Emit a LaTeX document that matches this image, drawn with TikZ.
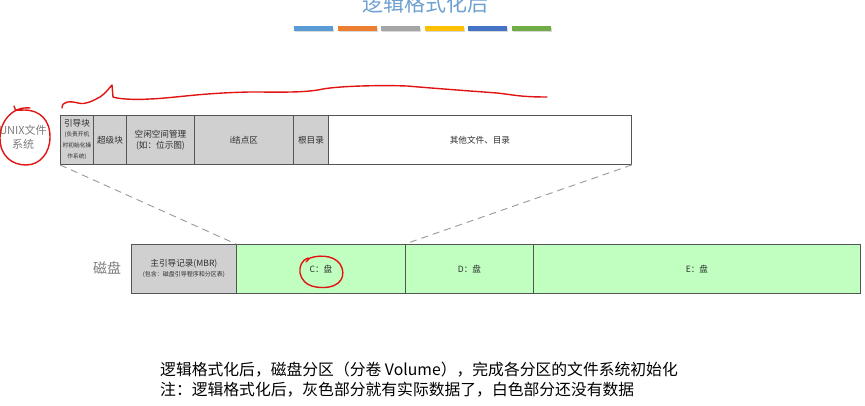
\documentclass[tikz,border=0pt]{standalone}
\usepackage{fontspec}
\setmainfont{Noto Sans CJK SC}
\newfontfamily\cjk{Noto Sans CJK SC}
\newcommand\smalltxt{\fontsize{5.7}{6.8}\selectfont}
\begin{document}
\definecolor{titleblue}{RGB}{110,160,210}
\definecolor{barA}{RGB}{91,155,213}
\definecolor{barB}{RGB}{237,125,49}
\definecolor{barC}{RGB}{165,165,165}
\definecolor{barD}{RGB}{255,192,0}
\definecolor{barE}{RGB}{68,114,196}
\definecolor{barF}{RGB}{112,173,71}
\definecolor{cellgray}{RGB}{208,208,208}
\definecolor{cellgreen}{RGB}{192,255,192}
\definecolor{edge}{RGB}{85,85,85}
\definecolor{celltext}{RGB}{45,45,45}
\definecolor{sidetext}{RGB}{125,125,125}
\definecolor{mark}{RGB}{225,20,20}
\begin{tikzpicture}[x=1pt,y=-1pt,
  cell/.style={draw=edge, line width=0.9pt, anchor=north west, inner sep=0.5pt,
    minimum height=49pt, align=center, text=celltext, font=\cjk\fontsize{8.6}{11}\selectfont},
  graycell/.style={cell, fill=cellgray},
  greencell/.style={cell, fill=cellgreen},
  whitecell/.style={cell, fill=white},
  bar/.style={minimum width=39pt, minimum height=4.5pt, inner sep=0pt, anchor=north west},
  zoomline/.style={draw=gray!80, line width=0.9pt, dash pattern=on 7pt off 5pt},
  pen/.style={draw=mark, line width=1.4pt, line cap=round, line join=round},
  sidelabel/.style={text=sidetext, align=center},
  note/.style={anchor=west, inner sep=0pt, font=\cjk\fontsize{15.8}{18}\selectfont}
]
\useasboundingbox[fill=white] (0,0) rectangle (865,406);

% title and colour strip
\node[text=titleblue, font=\cjk\fontsize{21}{24}\selectfont] (title) at (425,3.5) {逻辑格式化后};
\foreach \i in {0,...,5}
  \fill[gray!30] (295+43.5*\i,28) rectangle ++(39,4.5);
\node[bar, fill=barA] (b1) at (294,26) {};
\node[bar, fill=barB] (b2) at (337.5,26) {};
\node[bar, fill=barC] (b3) at (381,26) {};
\node[bar, fill=barD] (b4) at (424.5,26) {};
\node[bar, fill=barE] (b5) at (468,26) {};
\node[bar, fill=barF] (b6) at (511.5,26) {};

% file system layout
\node[graycell, minimum width=33pt] (boot) at (60,115)
  {引导块\\[-1pt]\smalltxt (负责开机\\\smalltxt 时初始化操\\\smalltxt 作系统)};
\node[graycell, minimum width=33pt] (super) at (93,115) {超级块};
\node[graycell, minimum width=68pt] (free) at (126,115) {空闲空间管理\\(如：位示图)};
\node[graycell, minimum width=99pt] (inode) at (194,115) {i结点区};
\node[graycell, minimum width=35pt] (root) at (293,115) {根目录};
\node[whitecell, minimum width=303pt] (other) at (328,115) {其他文件、目录};

% disk partitions
\node[graycell, minimum width=105pt] (mbr) at (131,244)
  {主引导记录(MBR)\\[-1pt]\fontsize{6}{7}\selectfont (包含：磁盘引导程序和分区表)};
\node[greencell, minimum width=169pt] (c) at (236,244) {C：盘};
\node[greencell, minimum width=128pt] (d) at (405,244) {D：盘};
\node[greencell, minimum width=327pt] (e) at (533,244) {E：盘};

% side labels
\node[sidelabel, font=\cjk\fontsize{11}{14}\selectfont] (unix) at (23,137) {UNIX文件\\系统};
\node[sidelabel, font=\cjk\fontsize{14}{16}\selectfont] (disk) at (107,268) {磁盘};

% partition C expands into the file system layout
\draw[zoomline] (boot.south west) -- (c.north west);
\draw[zoomline] (other.south east) -- (d.north west);

% hand-drawn marks
\draw[pen] (62,108) .. controls (62,101) and (70,101) .. (78,103)
  .. controls (86,105) and (92,101) .. (100,97)
  .. controls (106,93) and (110,87) .. (112,85) -- (113,97)
  .. controls (118,99) and (135,100) .. (150,99)
  .. controls (175,98) and (200,93) .. (250,92)
  .. controls (280,92) and (305,93) .. (323,89)
  .. controls (340,86) and (380,85) .. (407,86)
  .. controls (430,88) and (470,91) .. (497,93)
  .. controls (515,95) and (520,97) .. (547,97);
\draw[pen] (30,108) .. controls (12,106) and (0,122) .. (0,138)
  .. controls (0,156) and (12,165) .. (26,165)
  .. controls (40,165) and (50,153) .. (50,137)
  .. controls (50,120) and (40,110) .. (24,110)
  .. controls (18,110) and (15,112) .. (14,106);
\draw[pen] (308,258) .. controls (296,262) and (296,284) .. (316,287)
  .. controls (336,290) and (346,280) .. (342,268)
  .. controls (338,256) and (322,254) .. (310,258)
  -- (306,262);

% caption
\node[note] (line1) at (160,370) {逻辑格式化后，磁盘分区（分卷 Volume），完成各分区的文件系统初始化};
\node[note] (line2) at (160,390) {注：逻辑格式化后，灰色部分就有实际数据了，白色部分还没有数据};
\end{tikzpicture}
\end{document}
